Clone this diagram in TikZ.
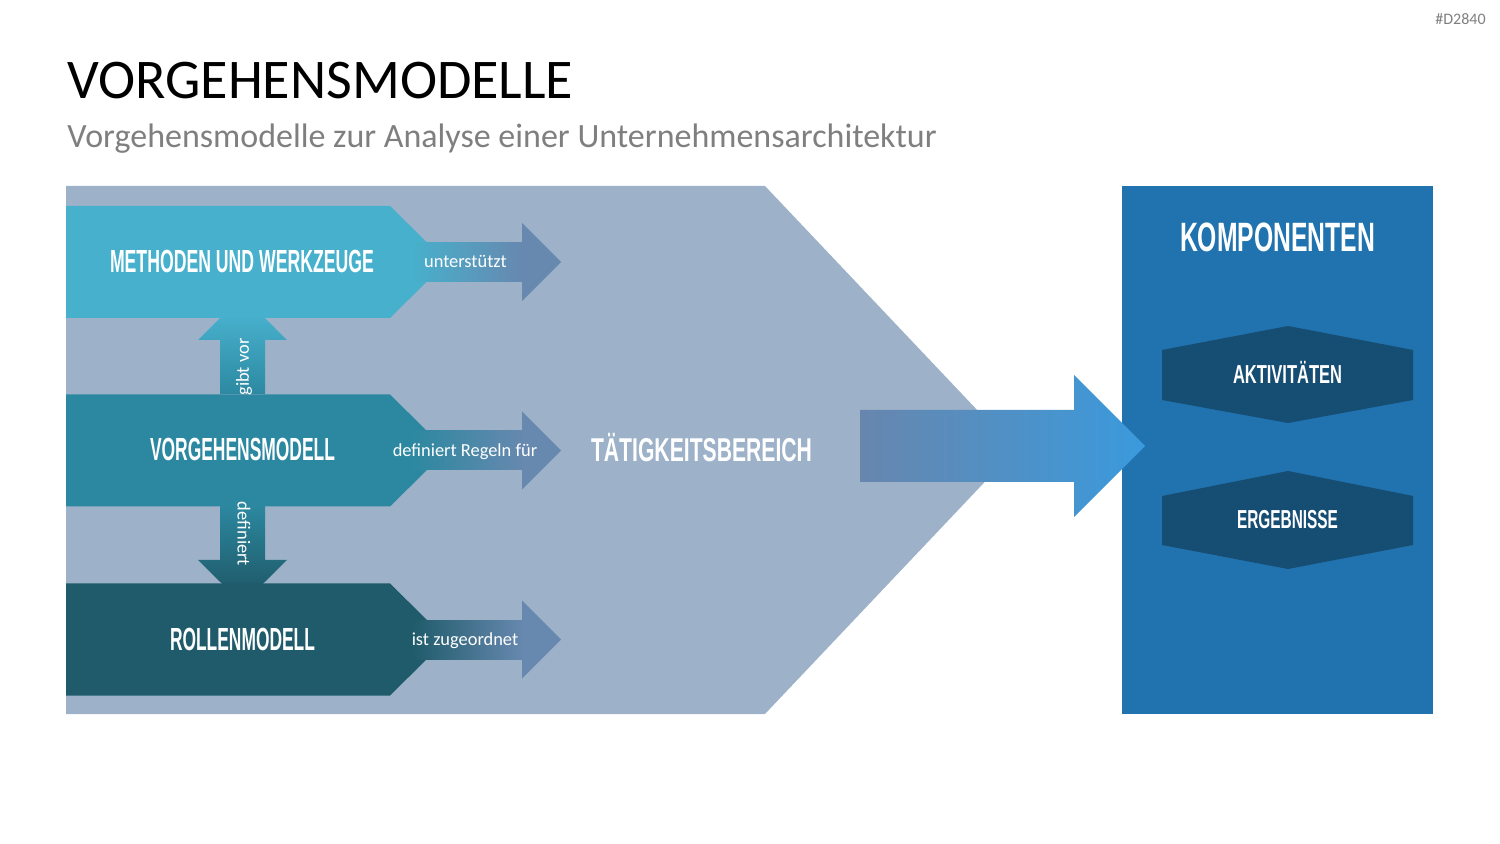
\documentclass[tikz,border=0pt]{standalone}
\usepackage{fontspec}
\setmainfont{Carlito}
\newfontfamily\bebas{Liberation Sans}
\usepackage{graphicx}
\definecolor{bgpent}{HTML}{9DB2C9}
\definecolor{boxA}{HTML}{47B0CC}
\definecolor{boxB}{HTML}{2C88A0}
\definecolor{boxC}{HTML}{1F5B6A}
\definecolor{headC}{HTML}{6788AF}
\definecolor{panel}{HTML}{2073AE}
\definecolor{hexC}{HTML}{164D73}
\definecolor{arrL}{HTML}{6786AE}
\definecolor{arrR}{HTML}{3A9ADC}
\definecolor{subgray}{HTML}{7F7F7F}
\newcommand\bbtext[3]{{\fontsize{#1}{#1}\selectfont\bebas\bfseries\resizebox{#2}{\height}{#3}}}
\tikzset{
  headline/.style={anchor=base west, inner sep=0pt, font=\fontsize{28}{28}\selectfont, text=black},
  subline/.style={anchor=base west, inner sep=0pt, font=\fontsize{17}{17}\selectfont, text=subgray},
  tagline/.style={anchor=base east, inner sep=0pt, font=\fontsize{8}{8}\selectfont, text=subgray},
  boxtitle/.style={anchor=base, inner sep=0pt, text=white},
  arrlabel/.style={anchor=base, inner sep=0pt, text=white, font=\fontsize{9.2}{9.2}\selectfont},
  vlabel/.style={anchor=center, inner sep=0pt, text=white, font=\fontsize{9.2}{9.2}\selectfont},
}
\begin{document}
\begin{tikzpicture}[x=0.5pt,y=-0.5pt]
\useasboundingbox (0,0) rectangle (1500,844);

% header
\node[headline] (title) at (67,99) {VORGEHENSMODELLE};
\node[subline] (subtitle) at (67,148) {Vorgehensmodelle zur Analyse einer Unternehmensarchitektur};
\node[tagline] (tag) at (1486,25) {\#D2840};

% background pentagon
\fill[bgpent] (66,186) -- (765,186) -- (1015,450) -- (765,714) -- (66,714) -- cycle;

% vertical arrows
\begin{scope}
  \clip (220,394) -- (220,340) -- (198,340) -- (242.5,296) -- (287,340) -- (265,340) -- (265,394) -- cycle;
  \shade[top color=boxA, bottom color=boxB] (190,316) rectangle (295,396);
\end{scope}
\begin{scope}
  \clip (220,505) -- (220,560) -- (198,560) -- (242.5,604) -- (287,560) -- (265,560) -- (265,505) -- cycle;
  \shade[top color=boxB, bottom color=boxC] (190,505) rectangle (295,590);
\end{scope}

% row arrows
\foreach \cy/\col in {262/boxA, 450.5/boxB, 639.5/boxC}{
  \fill[\col] (66,{\cy-56}) -- (390,{\cy-56}) -- (427,{\cy-19.5}) -- (427,{\cy+19.5}) -- (390,{\cy+56}) -- (66,{\cy+56}) -- cycle;
  \shade[left color=\col, right color=headC] (412,{\cy-19.5}) rectangle (523,{\cy+19.5});
  \fill[headC] (522,{\cy-39}) -- (561,\cy) -- (522,{\cy+39}) -- cycle;
}

% row texts
\node[boxtitle] (mw) at (242,273) {\bbtext{16}{132pt}{METHODEN UND WERKZEUGE}};
\node[boxtitle] (vm) at (242.5,461) {\bbtext{16}{92.5pt}{VORGEHENSMODELL}};
\node[boxtitle] (rm) at (242.5,650) {\bbtext{16}{72.5pt}{ROLLENMODELL}};
\node[boxtitle] (tb) at (701.5,462) {\bbtext{16.5}{110.5pt}{TÄTIGKEITSBEREICH}};

\node[arrlabel] (l1) at (465.5,268) {unterstützt};
\node[arrlabel] (l2) at (465,457) {definiert Regeln für};
\node[arrlabel] (l3) at (465,646) {ist zugeordnet};
\node[vlabel, rotate=90] (v1) at (244,367) {gibt vor};
\node[vlabel, rotate=-90] (v2) at (244,534) {definiert};

% right panel
\fill[panel] (1122,186) rectangle (1433,714);
\fill[hexC] (1162,350) -- (1288,326) -- (1413,350) -- (1413,400) -- (1288,423) -- (1162,400) -- cycle;
\fill[hexC] (1162,496) -- (1288,471) -- (1413,496) -- (1413,545) -- (1288,569) -- (1162,545) -- cycle;

% big arrow
\shade[left color=arrL, right color=arrR] (860,410) -- (1074,410) -- (1074,375) -- (1145,446) -- (1074,517) -- (1074,482) -- (860,482) -- cycle;

\node[boxtitle] (komp) at (1277.5,252) {\bbtext{20.5}{97.5pt}{KOMPONENTEN}};
\node[boxtitle] (akt) at (1287.5,384) {\bbtext{13}{54.5pt}{AKTIVITÄTEN}};
\node[boxtitle] (erg) at (1287.5,529) {\bbtext{13}{50.5pt}{ERGEBNISSE}};
\end{tikzpicture}
\end{document}
